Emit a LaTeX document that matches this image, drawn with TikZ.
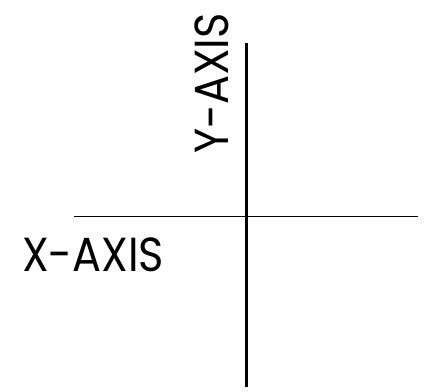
\documentclass[tikz,border=0pt]{standalone}
\usepackage{fontspec}
\setmainfont{Poppins}
\begin{document}
\begin{tikzpicture}[x=1bp,y=-1bp,
  axisline/.style={black,line cap=butt},
  lbl/.style={inner sep=0pt,font=\fontsize{48}{48}\selectfont,text=black}]
\useasboundingbox (0,0) rectangle (424,392);
\coordinate (ytop) at (246.5,43);
\coordinate (ybot) at (246.5,387);
\coordinate (xl) at (74,216.5);
\coordinate (xr) at (418,216.5);
\draw[axisline,line width=2.6bp] (ytop) -- (ybot);
\draw[axisline,line width=1.6bp] (xl) -- (xr);
\node[lbl,anchor=base west,xscale=0.9] (xlab) at (22,271) {X-AXIS};
\node[lbl,anchor=base west,rotate=90,xscale=0.9] (ylab) at (228,154) {Y-AXIS};
\end{tikzpicture}
\end{document}
